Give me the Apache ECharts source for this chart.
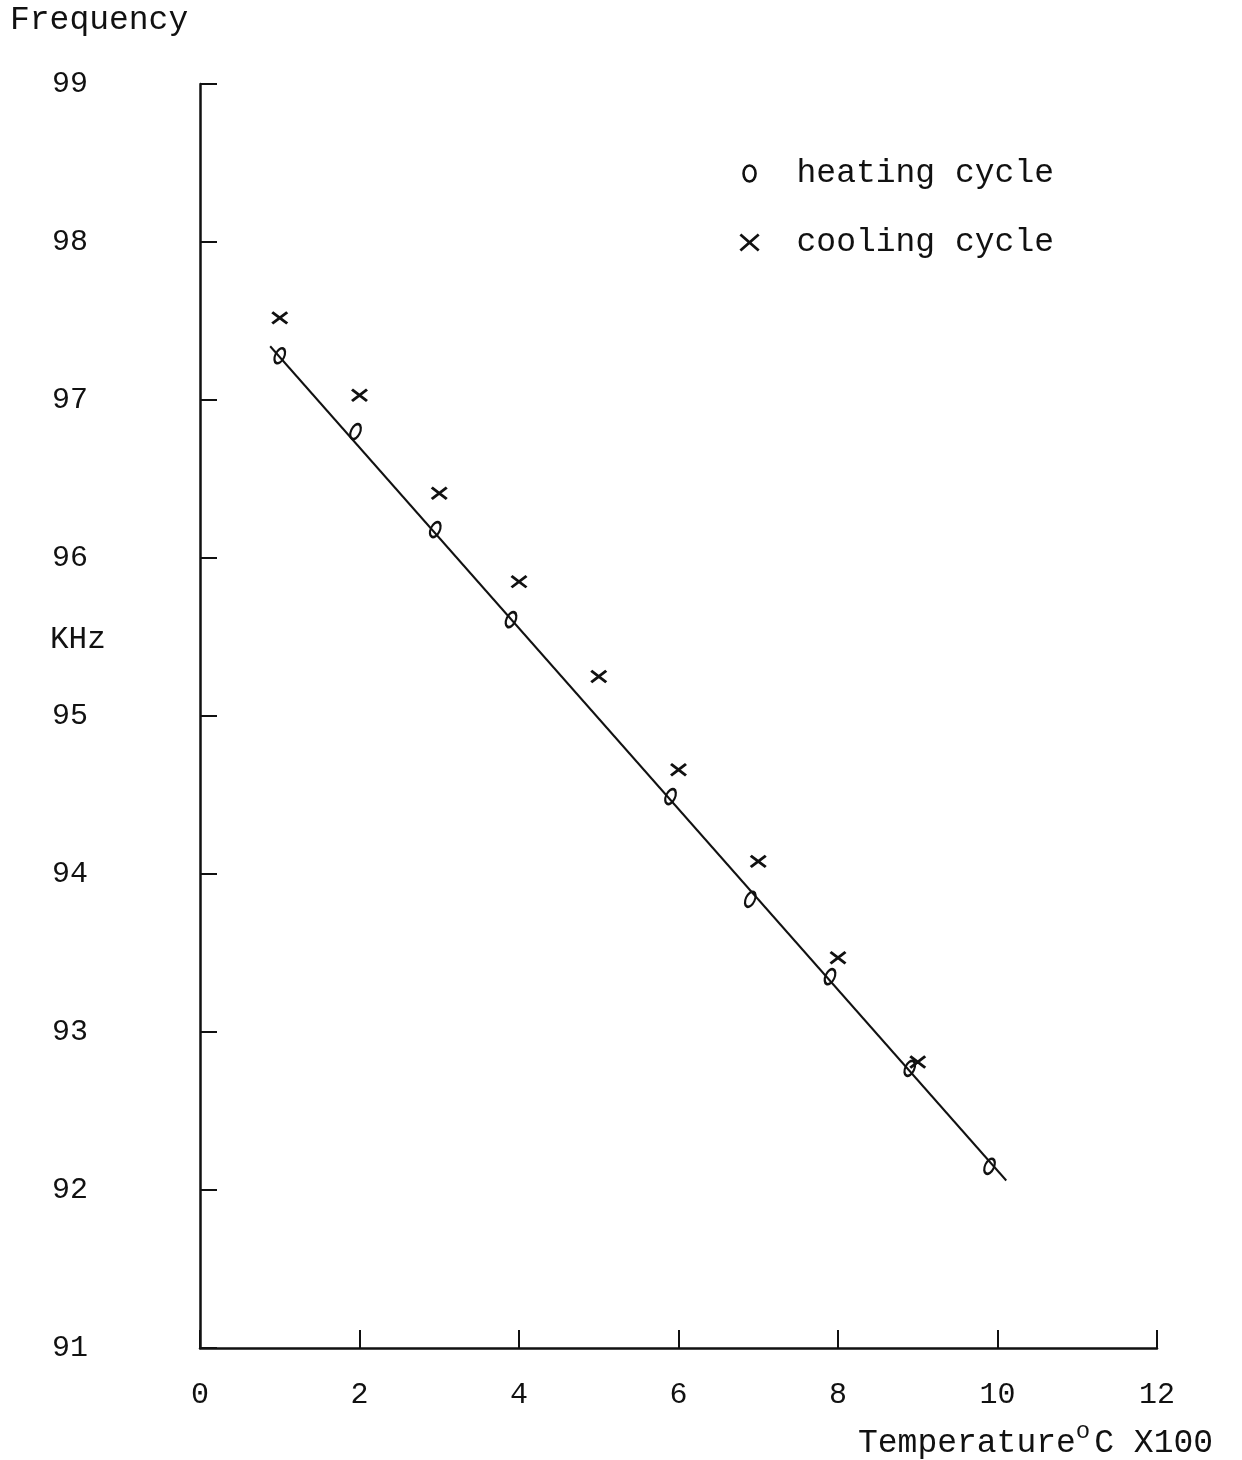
<!DOCTYPE html>
<html>
<head>
<meta charset="utf-8">
<script src="https://cdn.jsdelivr.net/npm/echarts@6/dist/echarts.min.js"></script>
<style>
  html, body { margin: 0; padding: 0; background: #fff; }
  #chart { width: 1242px; height: 1460px; }
</style>
</head>
<body>
<div id="chart"></div>
<script>
// Temperature (°C x100) readings
const heatingTemp = [1, 1.95, 2.95, 3.9, 5.9, 6.9, 7.9, 8.9, 9.9];
const heatingFreq = [97.28, 96.80, 96.18, 95.61, 94.49, 93.84, 93.35, 92.77, 92.15];
const coolingTemp = [1, 2, 3, 4, 5, 6, 7, 8, 9];
const coolingFreq = [97.52, 97.03, 96.41, 95.85, 95.25, 94.66, 94.08, 93.47, 92.81];
// end points of the fitted straight line
const fitTemp = [0.88, 10.11];
const fitFreq = [97.34, 92.06];

const xTicks = [0, 2, 4, 6, 8, 10, 12];
const yTicks = [91, 92, 93, 94, 95, 96, 97, 98, 99];

const FONT = '"Liberation Mono", "DejaVu Sans Mono", monospace';
const INK = '#111';

const ringPath = 'path://M0,-8 A6,8 0 1,1 0,8 A6,8 0 1,1 0,-8 Z';
const crossPath = 'path://M0,0 L16,14 M16,0 L0,14';

const zip = (a, b) => a.map((v, i) => [v, b[i]]);

const chart = echarts.init(document.getElementById('chart'), null, { renderer: 'canvas' });

chart.setOption({
  backgroundColor: '#fff',
  animation: false,
  grid: { left: 200, right: 85, top: 84, bottom: 112 },
  xAxis: {
    type: 'value',
    min: xTicks[0],
    max: xTicks[xTicks.length - 1],
    interval: 2,
    axisLine: { onZero: false, lineStyle: { color: INK, width: 2.5 } },
    axisTick: { inside: true, length: 18, lineStyle: { color: INK, width: 2 } },
    splitLine: { show: false },
    axisLabel: {
      margin: 32,
      color: INK,
      fontFamily: FONT,
      fontSize: 30
    }
  },
  yAxis: {
    type: 'value',
    min: yTicks[0],
    max: yTicks[yTicks.length - 1],
    interval: 1,
    axisLine: { show: true, onZero: false, lineStyle: { color: INK, width: 2.5 } },
    axisTick: { show: true, inside: true, length: 17, lineStyle: { color: INK, width: 2 } },
    splitLine: { show: false },
    axisLabel: {
      margin: 112,
      color: INK,
      fontFamily: FONT,
      fontSize: 30
    }
  },
  legend: {
    orient: 'vertical',
    left: 734,
    top: 152,
    itemWidth: 84,
    itemHeight: 16,
    itemGap: 36,
    selectedMode: false,
    textStyle: { color: INK, fontFamily: FONT, fontSize: 33 },
    data: [
      { name: 'heating cycle', itemStyle: { borderColor: INK, borderWidth: 2.6 } },
      { name: 'cooling cycle', itemStyle: { borderColor: INK, borderWidth: 2.8 } }
    ]
  },
  series: [
    {
      name: 'fit',
      type: 'line',
      data: zip(fitTemp, fitFreq),
      showSymbol: false,
      lineStyle: { color: INK, width: 2 },
      z: 1
    },
    {
      name: 'heating cycle',
      type: 'scatter',
      data: zip(heatingTemp, heatingFreq),
      symbol: ringPath,
      symbolSize: [12, 16],
      symbolRotate: -25,
      symbolKeepAspect: true,
      itemStyle: { color: 'rgba(0,0,0,0)', borderColor: INK, borderWidth: 2.4, opacity: 1 },
      z: 3
    },
    {
      name: 'cooling cycle',
      type: 'scatter',
      data: zip(coolingTemp, coolingFreq),
      symbol: crossPath,
      symbolSize: [15, 13],
      symbolKeepAspect: true,
      itemStyle: { color: INK, borderColor: INK, borderWidth: 2.8, opacity: 1 },
      z: 3
    }
  ],
  graphic: [
    {
      type: 'text', left: 10, top: 4,
      style: { text: 'Frequency', fill: INK, font: '33px ' + FONT }
    },
    {
      type: 'text', left: 50, top: 624,
      style: { text: 'KHz', fill: INK, font: '31px ' + FONT }
    },
    {
      type: 'text', left: 858, top: 1420,
      style: {
        text: '{a|Temperature}{s|o}{a|C X100}',
        rich: {
          a: { fill: INK, font: '33px ' + FONT, verticalAlign: 'bottom' },
          s: { fill: INK, font: '24px ' + FONT, verticalAlign: 'top', padding: [0, 4, 16, 0] }
        }
      }
    }
  ]
});
</script>
</body>
</html>
